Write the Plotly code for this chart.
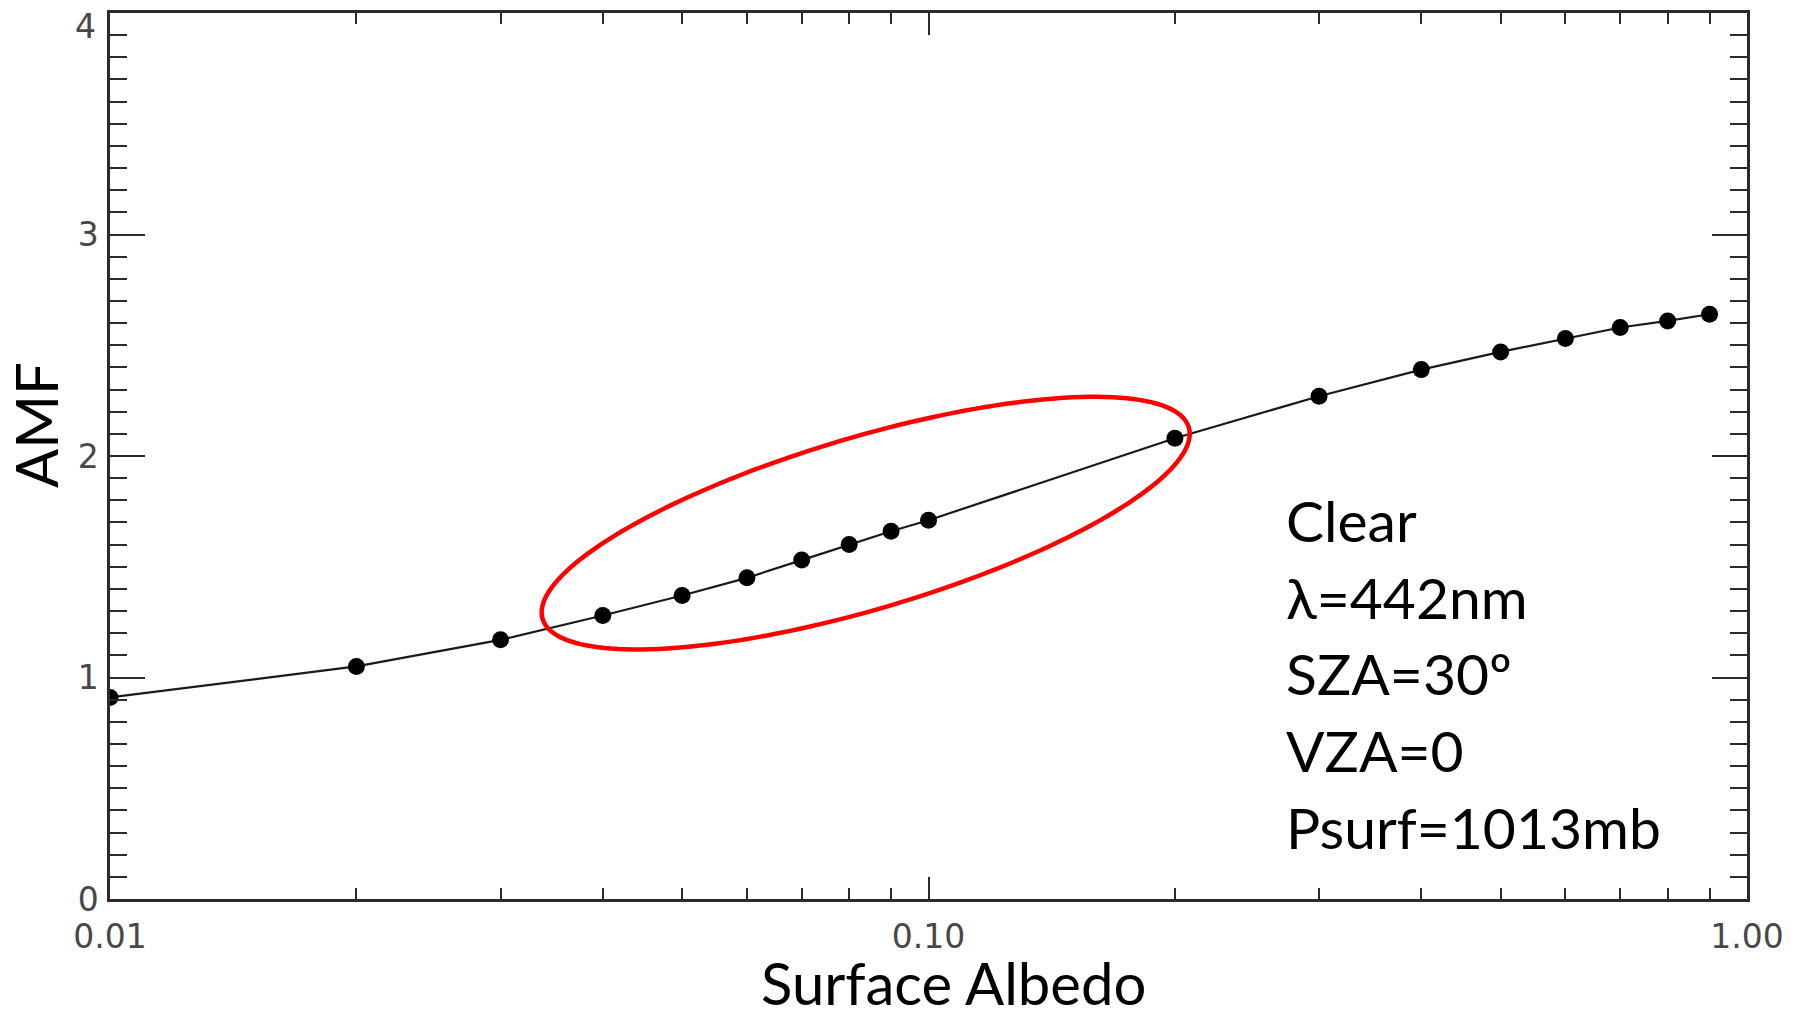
import numpy as np
import plotly.graph_objects as go

# AMF as a function of surface albedo (clear sky)
albedo = [0.01, 0.02, 0.03, 0.04, 0.05, 0.06, 0.07, 0.08, 0.09, 0.10,
          0.20, 0.30, 0.40, 0.50, 0.60, 0.70, 0.80, 0.90]
amf = [0.91, 1.05, 1.17, 1.28, 1.37, 1.45, 1.53, 1.60, 1.66, 1.71,
       2.08, 2.27, 2.39, 2.47, 2.53, 2.58, 2.61, 2.64]

x_tickvals = [0.01, 0.1, 1.0]
x_ticktext = ["0.01", "0.10", "1.00"]
x_minor = [0.02, 0.03, 0.04, 0.05, 0.06, 0.07, 0.08, 0.09,
           0.2, 0.3, 0.4, 0.5, 0.6, 0.7, 0.8, 0.9]
y_tickvals = [0, 1, 2, 3, 4]

conditions = ["Clear", "λ=442nm", "SZA=30º", "VZA=0", "Psurf=1013mb"]

# Figure geometry
W, H = 1802, 1010
ML, MR, MT, MB = 110, 55, 13, 111
PW, PH = W - ML - MR, H - MT - MB
X_RANGE = [-2, 0]      # log10 of albedo
Y_RANGE = [0, 4.0]

AXIS_COLOR = "#2b2b2b"
TICK_FONT = dict(family="DejaVu Sans", size=33, color="#474747")
TEXT_FONT = dict(family="Lato", size=57, color="#000000")
TITLE_FONT = dict(family="Lato", size=58, color="#000000")


def to_paper(a, v):
    px = (np.log10(a) - X_RANGE[0]) / (X_RANGE[1] - X_RANGE[0])
    py = (v - Y_RANGE[0]) / (Y_RANGE[1] - Y_RANGE[0])
    return px, py


# Highlight ellipse around the low-albedo points (tilted along the curve)
ell_center = (0.0838, 1.697)
ell_a_px, ell_b_px, ell_tilt_deg = 337, 86, 16.5
cx, cy = to_paper(*ell_center)
t = np.linspace(0, 2 * np.pi, 181)
th = np.radians(ell_tilt_deg)
dx_px = ell_a_px * np.cos(th) * np.cos(t) - ell_b_px * np.sin(th) * np.sin(t)
dy_px = ell_a_px * np.sin(th) * np.cos(t) + ell_b_px * np.cos(th) * np.sin(t)
ex = cx + dx_px / PW
ey = cy + dy_px / PH
ell_path = "M " + " L ".join(f"{x:.5f},{y:.5f}" for x, y in zip(ex, ey)) + " Z"

fig = go.Figure()
fig.add_trace(go.Scatter(
    x=albedo, y=amf, mode="lines+markers",
    line=dict(color="#1a1a1a", width=2.2),
    marker=dict(color="#000000", size=17, symbol="circle"),
    cliponaxis=True, showlegend=False,
))

fig.add_shape(type="path", xref="paper", yref="paper", path=ell_path,
              line=dict(color="#ff0000", width=4.5), layer="above")

axis_common = dict(
    showline=True, linecolor=AXIS_COLOR, linewidth=2.5, mirror="allticks",
    ticks="inside", tickcolor=AXIS_COLOR, tickwidth=2,
    showgrid=False, zeroline=False, tickfont=TICK_FONT,
    ticklabeloverflow="allow", automargin=False,
)

fig.update_xaxes(
    type="log", range=X_RANGE, tickvals=x_tickvals, ticktext=x_ticktext,
    ticklen=22, ticklabelstandoff=7,
    minor=dict(tickvals=x_minor, ticks="inside", ticklen=11,
               tickwidth=2, tickcolor=AXIS_COLOR),
    **axis_common,
)
# The top label sits just below its tick so it stays inside the page
y_ticktext = [str(v) for v in y_tickvals[:-1]] + [""]
fig.update_yaxes(
    range=Y_RANGE, tickvals=y_tickvals, ticktext=y_ticktext,
    ticklen=35, ticklabelstandoff=2,
    minor=dict(dtick=0.1, ticks="inside", ticklen=17,
               tickwidth=2, tickcolor=AXIS_COLOR),
    **axis_common,
)
fig.add_annotation(text=str(y_tickvals[-1]), xref="paper", yref="y",
                   x=0, y=y_tickvals[-1], xanchor="right", yanchor="middle",
                   xshift=-12, yshift=-13, showarrow=False, font=TICK_FONT)

# Axis titles
fig.add_annotation(text="AMF", xref="paper", yref="paper",
                   x=(36 - ML) / PW, y=(MT + PH - 425) / PH, textangle=-90,
                   showarrow=False, font=TITLE_FONT,
                   xanchor="center", yanchor="middle")
fig.add_annotation(text="Surface Albedo", xref="paper", yref="paper",
                   x=(953 - ML) / PW, y=(MT + PH - 982) / PH,
                   showarrow=False, font=TITLE_FONT,
                   xanchor="center", yanchor="middle")

# Model conditions block
line_step = 76.7
first_mid = 520
for i, line in enumerate(conditions):
    ypix = first_mid + i * line_step
    fig.add_annotation(text=line, xref="paper", yref="paper",
                       x=(1284 - ML) / PW, y=(MT + PH - ypix) / PH,
                       showarrow=False, font=TEXT_FONT,
                       xanchor="left", yanchor="middle")

fig.update_layout(
    width=W, height=H,
    margin=dict(l=ML, r=MR, t=MT, b=MB),
    paper_bgcolor="white", plot_bgcolor="white",
)

fig.write_html("out.html")
